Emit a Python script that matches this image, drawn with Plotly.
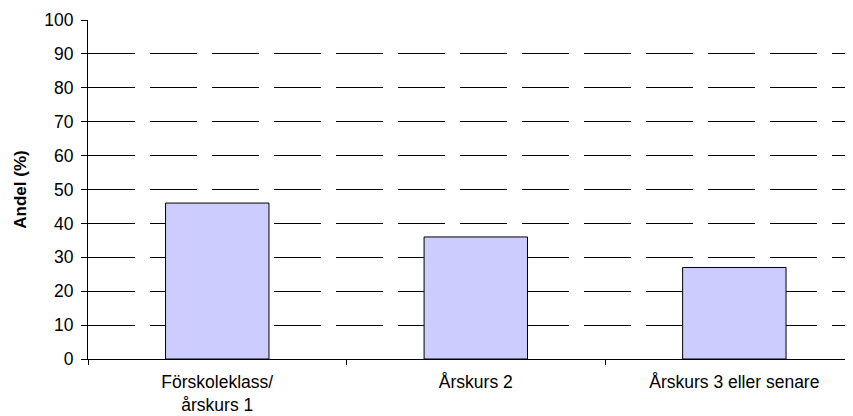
import plotly.graph_objects as go

categories = ["Förskoleklass/<br>årskurs 1", "Årskurs 2", "Årskurs 3 eller senare"]
values = [46, 36, 27]
y_ticks = [0, 10, 20, 30, 40, 50, 60, 70, 80, 90, 100]

fig = go.Figure()
fig.add_trace(go.Bar(
    x=categories, y=values,
    marker=dict(color="#CCCCFF", line=dict(color="black", width=1)),
    width=0.4,
))

# page body has an 8px default margin, so the figure is sized/offset to compensate
fig.update_layout(
    width=845, height=408,
    margin=dict(l=80, r=0, t=12, b=57),
    paper_bgcolor="white", plot_bgcolor="white",
    font=dict(family="Liberation Sans, Arial, sans-serif", size=17.5, color="black"),
    showlegend=False,
    bargap=0.6,
)
fig.update_xaxes(
    type="category",
    range=[-0.5, 2.459],
    automargin=False,
    showline=True, linecolor="black", linewidth=1,
    ticks="outside", tickson="boundaries", ticklen=5, tickcolor="black",
    ticklabelstandoff=7,
    showgrid=False, zeroline=False,
    tickfont=dict(size=17.5),
)
fig.update_yaxes(
    range=[0, 100],
    tickvals=y_ticks,
    automargin=False,
    showline=True, linecolor="black", linewidth=1,
    ticks="outside", ticklen=6, tickcolor="black",
    ticklabelstandoff=4,
    showgrid=True, gridcolor="black", gridwidth=1, griddash="47px,15px",
    zeroline=False,
    tickfont=dict(size=17.5),
    title=dict(text="<b>Andel (%)</b>", font=dict(size=17), standoff=13),
)

fig.write_html("out.html")
